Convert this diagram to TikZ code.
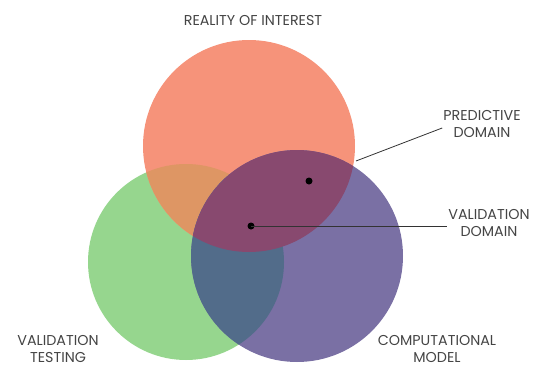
\documentclass[tikz,border=0pt]{standalone}
\usepackage{fontspec}
\setmainfont{Poppins}
\definecolor{roiorange}{HTML}{F6937A}
\definecolor{valgreen}{HTML}{96D68E}
\definecolor{cmpurple}{HTML}{7A70A4}
\definecolor{orgreen}{HTML}{DE9664}
\definecolor{pugreen}{HTML}{526C8A}
\definecolor{puorange}{HTML}{88496F}
\definecolor{labelgray}{HTML}{444444}
\begin{document}
\begin{tikzpicture}[x=1pt, y=-1pt,
		lbl/.style={align=center, text=labelgray, font=\fontsize{14.3}{17.5}\selectfont, inner sep=1pt},
		pt/.style={circle, fill=black, inner sep=0pt, minimum size=7pt},
		lead/.style={draw=black!80, line width=0.8pt}]
	\useasboundingbox (0,0) rectangle (542,367);
	% circles
	\coordinate (cR) at (249,146);
	\coordinate (cV) at (186,262);
	\coordinate (cM) at (297,256);
	\fill[valgreen] (cV) circle[radius=98pt];
	\fill[roiorange] (cR) circle[radius=106pt];
	\begin{scope}
		\clip (cR) circle[radius=106pt];
		\fill[orgreen] (cV) circle[radius=98pt];
	\end{scope}
	\fill[cmpurple] (cM) circle[radius=106pt];
	\begin{scope}
		\clip (cM) circle[radius=106pt];
		\fill[pugreen] (cV) circle[radius=98pt];
		\fill[puorange] (cR) circle[radius=106pt];
	\end{scope}
	% points
	\node[pt] (pd) at (309,181) {};
	\node[pt] (vd) at (251,226) {};
	% labels
	\node[lbl] (roi) at (253,21) {REALITY OF INTEREST};
	\node[lbl] (pdl) at (482,124) {PREDICTIVE\\DOMAIN};
	\node[lbl] (vdl) at (489,223) {VALIDATION\\DOMAIN};
	\node[lbl] (vtl) at (58,349) {VALIDATION\\TESTING};
	\node[lbl] (cml) at (437,349) {COMPUTATIONAL\\MODEL};
	% leaders
	\coordinate (pe) at (356,161);
	\draw[lead] (pe) -- ([yshift=-4pt]pdl.west);
	\draw[lead] (vd.center) -- (vd.center -| vdl.west);
\end{tikzpicture}
\end{document}
